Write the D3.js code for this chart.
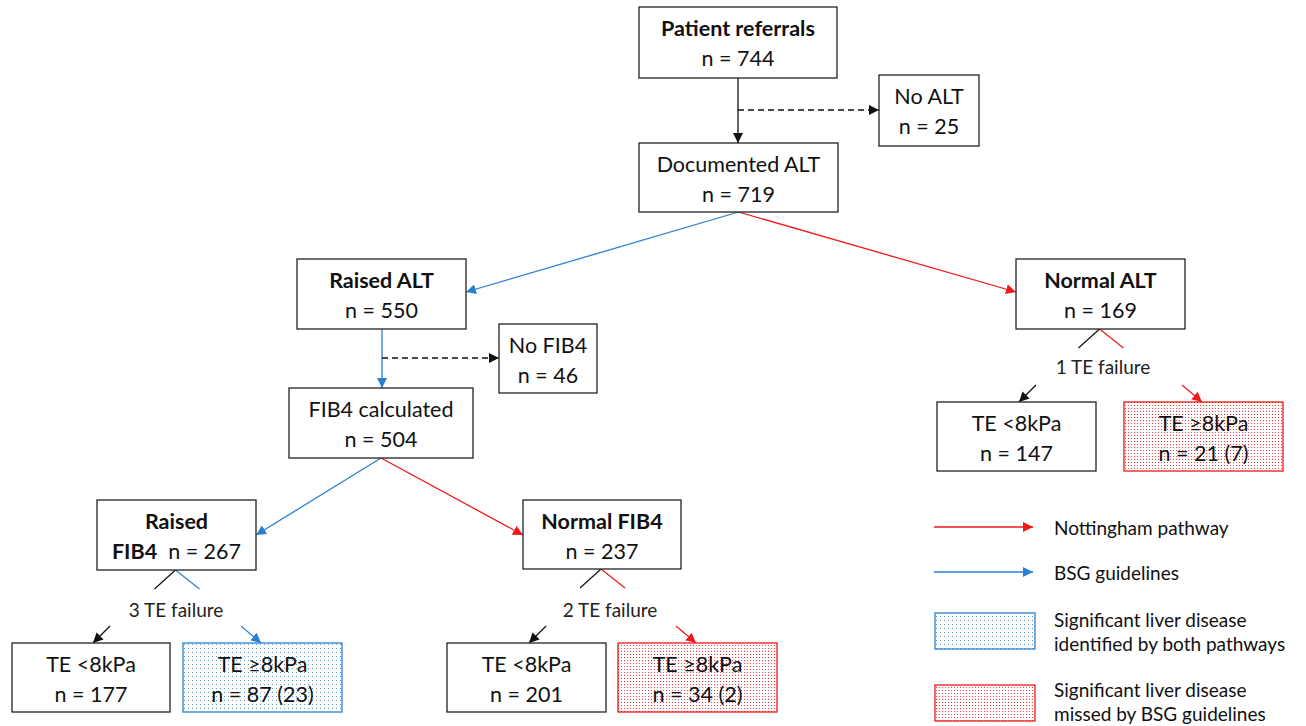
<!DOCTYPE html>
<html>
<head>
<meta charset="utf-8">
<script src="https://cdn.jsdelivr.net/npm/d3@7"></script>
<style>
  body { margin: 0; background: #fff; }
  svg { display: block; font-family: Lato, "Open Sans", sans-serif; }
  .box { fill: #fff; stroke: #222; stroke-width: 1.3; }
  .lbl { font-size: 21.5px; fill: #111; text-anchor: middle; }
  .fail { font-size: 19px; fill: #222; text-anchor: middle; }
  .leg { font-size: 19px; fill: #111; }
</style>
</head>
<body>
<svg id="chart"></svg>
<script>
// Flowchart of referrals through the ALT / FIB4 / transient elastography steps.
const WIDTH = 1306;
const HEIGHT = 726;
const RED = '#f01818';
const BLUE = '#2a7fcf';

// Node ids, titles, bold flags and counts.
const nodeIds = ['ref', 'noalt', 'doc', 'raisedAlt', 'normalAlt', 'nofib', 'fibcalc',
  'raisedFib', 'normalFib', 'te1lo', 'te1hi', 'te2lo', 'te2hi', 'te3lo', 'te3hi'];
const nodeTitles = ['Patient referrals', 'No ALT', 'Documented ALT', 'Raised ALT', 'Normal ALT',
  'No FIB4', 'FIB4 calculated', 'Raised', 'Normal FIB4', 'TE <8kPa', 'TE \u22658kPa',
  'TE <8kPa', 'TE \u22658kPa', 'TE <8kPa', 'TE \u22658kPa'];
const nodeBold = [true, false, false, true, true, false, false, true, true,
  false, false, false, false, false, false];
const nodeCounts = ['744', '25', '719', '550', '169', '46', '504', '267', '237',
  '177', '87 (23)', '201', '34 (2)', '147', '21 (7)'];
// highlight: '' plain, 'blue' found by both, 'red' missed by BSG
const nodeFill = ['', '', '', '', '', '', '', '', '', '', 'blue', '', 'red', '', 'red'];

const failLabels = ['3 TE failure', '2 TE failure', '1 TE failure'];
const legendLabels = [['Nottingham pathway'], ['BSG guidelines'],
  ['Significant liver disease', 'identified by both pathways'],
  ['Significant liver disease', 'missed by BSG guidelines']];

// Layout (pixel geometry, x0, y0, x1, y1).
const layout = {
  ref: [639, 7, 837, 78], noalt: [879, 75, 979, 146], doc: [639, 143, 838, 212],
  raisedAlt: [297, 259, 466, 329], normalAlt: [1016, 259, 1185, 329],
  nofib: [499, 324, 597, 393], fibcalc: [289, 388, 473, 458],
  raisedFib: [97, 500, 256, 570], normalFib: [523, 500, 681, 569],
  te1lo: [12, 643, 170, 712], te1hi: [183, 643, 342, 712],
  te2lo: [447, 643, 606, 712], te2hi: [618, 643, 777, 712],
  te3lo: [937, 402, 1096, 471], te3hi: [1124, 402, 1283, 471],
};

const svg = d3.select('#chart').attr('width', WIDTH).attr('height', HEIGHT)
  .attr('viewBox', `0 0 ${WIDTH} ${HEIGHT}`);
const defs = svg.append('defs');

// Arrowheads.
[['k', '#111'], ['r', RED], ['b', BLUE]].forEach(([id, c]) => {
  defs.append('marker').attr('id', 'ah-' + id)
    .attr('viewBox', '0 0 10 10').attr('refX', 10).attr('refY', 5)
    .attr('markerWidth', 10).attr('markerHeight', 10)
    .attr('markerUnits', 'userSpaceOnUse').attr('orient', 'auto')
    .append('path').attr('d', 'M0,0 L10,5 L0,10 z').attr('fill', c);
});

// Dotted fills.
function dotPattern(id, color, step, r) {
  const p = defs.append('pattern').attr('id', id).attr('patternUnits', 'userSpaceOnUse')
    .attr('width', step).attr('height', step);
  p.append('rect').attr('width', step).attr('height', step).attr('fill', '#fff');
  p.append('rect').attr('x', 0).attr('y', 0).attr('width', r).attr('height', r).attr('fill', color);
}
dotPattern('dots-blue', '#5a9ad8', 4, 1);
dotPattern('dots-red', '#f04040', 3, 1);

const nodes = nodeIds.map((id, i) => {
  const [x0, y0, x1, y1] = layout[id];
  return { id, x0, y0, x1, y1, title: nodeTitles[i], bold: nodeBold[i], n: nodeCounts[i], fill: nodeFill[i] };
});
const byId = Object.fromEntries(nodes.map((d) => [d.id, d]));
const cx = (d) => (d.x0 + d.x1) / 2;

// Links: solid/dashed connectors.
const links = [
  { pts: [[cx(byId.ref), byId.ref.y1], [cx(byId.ref), byId.doc.y0]], c: 'k' },
  { pts: [[cx(byId.ref), 110], [byId.noalt.x0, 110]], c: 'k', dash: true },
  { pts: [[cx(byId.doc), byId.doc.y1], [byId.raisedAlt.x1, 292]], c: 'b' },
  { pts: [[cx(byId.doc), byId.doc.y1], [byId.normalAlt.x0, 292]], c: 'r' },
  { pts: [[382, byId.raisedAlt.y1], [382, byId.fibcalc.y0]], c: 'b' },
  { pts: [[382, 358], [byId.nofib.x0, 358]], c: 'k', dash: true },
  { pts: [[381, byId.fibcalc.y1], [byId.raisedFib.x1, 535]], c: 'b' },
  { pts: [[381, byId.fibcalc.y1], [byId.normalFib.x0, 535]], c: 'r' },
];
const col = { k: '#111', r: RED, b: BLUE };

svg.append('g').selectAll('line').data(links).join('line')
  .attr('x1', (d) => d.pts[0][0]).attr('y1', (d) => d.pts[0][1])
  .attr('x2', (d) => d.pts[1][0]).attr('y2', (d) => d.pts[1][1])
  .attr('stroke', (d) => col[d.c]).attr('stroke-width', 1.3)
  .attr('stroke-dasharray', (d) => (d.dash ? '6,4' : null))
  .attr('marker-end', (d) => `url(#ah-${d.c})`);

// TE failure splits: parent node, label position, colour of right branch.
const splits = [
  { from: 'raisedFib', lx: 176, ly: 609, c: 'b', lo: 'te1lo', hi: 'te1hi', label: failLabels[0] },
  { from: 'normalFib', lx: 610, ly: 609, c: 'r', lo: 'te2lo', hi: 'te2hi', label: failLabels[1] },
  { from: 'normalAlt', lx: 1103, ly: 366, c: 'r', lo: 'te3lo', hi: 'te3hi', label: failLabels[2] },
];
const sg = svg.append('g');
splits.forEach((s) => {
  const p = byId[s.from];
  const px = cx(p) - 1;
  const lo = byId[s.lo];
  const hi = byId[s.hi];
  // short stubs from parent
  sg.append('line').attr('x1', px).attr('y1', p.y1).attr('x2', px - 21).attr('y2', p.y1 + 19)
    .attr('stroke', '#111').attr('stroke-width', 1.2);
  sg.append('line').attr('x1', px).attr('y1', p.y1).attr('x2', px + 24).attr('y2', p.y1 + 19)
    .attr('stroke', col[s.c]).attr('stroke-width', 1.2);
  sg.append('text').attr('class', 'fail').attr('x', s.lx).attr('y', s.ly)
    .attr('dominant-baseline', 'central').text(s.label);
  // short arrows into children
  const loTx = lo.x1 - 77;
  const hiTx = hi.x0 + 78;
  sg.append('line').attr('x1', loTx + 17).attr('y1', lo.y0 - 17).attr('x2', loTx).attr('y2', lo.y0)
    .attr('stroke', '#111').attr('stroke-width', 1.2).attr('marker-end', 'url(#ah-k)');
  sg.append('line').attr('x1', hiTx - 20).attr('y1', hi.y0 - 17).attr('x2', hiTx).attr('y2', hi.y0)
    .attr('stroke', col[s.c]).attr('stroke-width', 1.2).attr('marker-end', `url(#ah-${s.c})`);
});

// Boxes.
const ng = svg.append('g').selectAll('g').data(nodes).join('g');
ng.append('rect').attr('class', 'box')
  .attr('x', (d) => d.x0).attr('y', (d) => d.y0)
  .attr('width', (d) => d.x1 - d.x0).attr('height', (d) => d.y1 - d.y0)
  .style('fill', (d) => (d.fill ? `url(#dots-${d.fill})` : '#fff'))
  .style('stroke', (d) => (d.fill === 'blue' ? BLUE : d.fill === 'red' ? RED : '#222'));

ng.each(function (d) {
  const g = d3.select(this);
  const x = cx(d);
  if (d.id === 'raisedFib') {
    g.append('text').attr('class', 'lbl').attr('x', x).attr('y', d.y0 + 29)
      .style('font-weight', 'bold').text(d.title);
    const t = g.append('text').attr('class', 'lbl').attr('x', x).attr('y', d.y0 + 59);
    t.append('tspan').style('font-weight', 'bold').text('FIB4');
    t.append('tspan').text('\u00a0 n = ' + d.n);
    return;
  }
  g.append('text').attr('class', 'lbl').attr('x', x).attr('y', d.y0 + 29)
    .style('font-weight', d.bold ? 'bold' : null).text(d.title);
  g.append('text').attr('class', 'lbl').attr('x', x).attr('y', d.y0 + 59)
    .text('n = ' + d.n);
});

// Legend.
const lg = svg.append('g');
const legY = [527, 572, 631, 701];
legendLabels.forEach((lines, i) => {
  const y = legY[i];
  if (i < 2) {
    const c = i === 0 ? 'r' : 'b';
    lg.append('line').attr('x1', 934).attr('x2', 1033).attr('y1', y).attr('y2', y)
      .attr('stroke', col[c]).attr('stroke-width', 1.3).attr('marker-end', `url(#ah-${c})`);
  } else {
    const f = i === 2 ? 'blue' : 'red';
    const ry = i === 2 ? y - 18 : 685;
    lg.append('rect').attr('x', 935).attr('y', ry).attr('width', 100).attr('height', 36)
      .style('fill', `url(#dots-${f})`).style('stroke', f === 'blue' ? BLUE : RED).attr('stroke-width', 1.3);
  }
  const t = lg.append('text').attr('class', 'leg').attr('x', 1054)
    .attr('y', y - (lines.length - 1) * 12).attr('dominant-baseline', 'central');
  lines.forEach((s, j) => t.append('tspan').attr('x', 1054).attr('dy', j ? 24 : 0).text(s));
});
</script>
</body>
</html>
